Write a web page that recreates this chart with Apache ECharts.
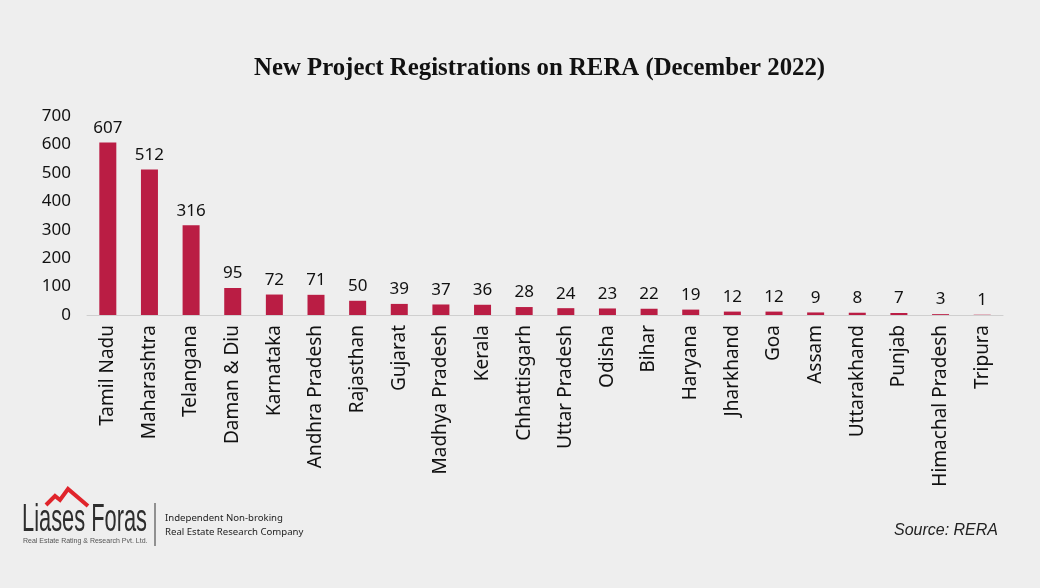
<!DOCTYPE html>
<html><head><meta charset="utf-8">
<script src="https://cdn.jsdelivr.net/npm/echarts@6/dist/echarts.min.js"></script>
<style>html,body{margin:0;padding:0;background:#eeeeee;}#c{width:1040px;height:588px;}</style>
</head><body><div id="c"></div>
<script>
const states = ["Tamil Nadu","Maharashtra","Telangana","Daman & Diu","Karnataka","Andhra Pradesh","Rajasthan","Gujarat","Madhya Pradesh","Kerala","Chhattisgarh","Uttar Pradesh","Odisha","Bihar","Haryana","Jharkhand","Goa","Assam","Uttarakhand","Punjab","Himachal Pradesh","Tripura"];
const registrations = [607,512,316,95,72,71,50,39,37,36,28,24,23,22,19,12,12,9,8,7,3,1];
const yTicks = [0,100,200,300,400,500,600,700];
const titleText = "New Project Registrations on RERA (December 2022)";
const sourceText = "Source: RERA";

const chart = echarts.init(document.getElementById('c'));
chart.setOption({
  backgroundColor: '#eeeeee',
  animation: false,
  title: {
    text: titleText, left: 249, top: 51,
    textStyle: {fontFamily: 'Liberation Serif', fontWeight: 'bold', fontSize: 24.8, color: '#111'}
  },
  grid: {left: 87, right: 37, top: 116, bottom: 273},
  xAxis: {
    type: 'category', data: states,
    axisLine: {lineStyle: {color: '#cfcfcf', width: 1}},
    axisTick: {show: false},
    axisLabel: {rotate: 90, interval: 0, fontFamily: 'Noto Sans', fontSize: 19, color: '#111', margin: 10}
  },
  yAxis: {
    type: 'value', min: 0, max: 700, interval: 100,
    splitLine: {show: false}, axisLine: {show: false}, axisTick: {show: false},
    axisLabel: {fontFamily: 'Noto Sans', fontSize: 17, color: '#111', margin: 16,
      formatter: v => yTicks.includes(v) ? String(v) : ''}
  },
  series: [{
    type: 'bar', data: registrations, barWidth: 17,
    itemStyle: {color: '#BA1D44'},
    label: {show: true, position: 'top', distance: 6, fontFamily: 'Noto Sans', fontSize: 17, color: '#111'}
  }],
  graphic: [
    {type: 'polyline', shape: {points: [[46,505],[55,496],[60,500],[68,489],[88,506]]},
     style: {stroke: '#e0242b', lineWidth: 4, fill: null, lineJoin: 'miter'}},
    {type: 'text', x: 22, y: 520, scaleX: 0.56, style: {text: 'Liases Foras', x: 0, y: 0, verticalAlign: 'middle', font: '39px "Liberation Sans", sans-serif', fill: '#2e2e2e'}},
    {type: 'text', left: 23, top: 538, style: {text: 'Real Estate Rating & Research Pvt. Ltd.', font: '7px "Liberation Sans", sans-serif', fill: '#555'}},
    {type: 'line', shape: {x1: 155, y1: 503, x2: 155, y2: 546}, style: {stroke: '#333', lineWidth: 1}},
    {type: 'text', left: 165, top: 513, style: {text: 'Independent Non-broking', font: '9.6px "Noto Sans", sans-serif', fill: '#222'}},
    {type: 'text', left: 165, top: 527, style: {text: 'Real Estate Research Company', font: '9.6px "Noto Sans", sans-serif', fill: '#222'}},
    {type: 'text', right: 42, top: 523, style: {text: sourceText, font: 'italic 16px "Liberation Sans", sans-serif', fill: '#222'}}
  ]
});
</script></body></html>
